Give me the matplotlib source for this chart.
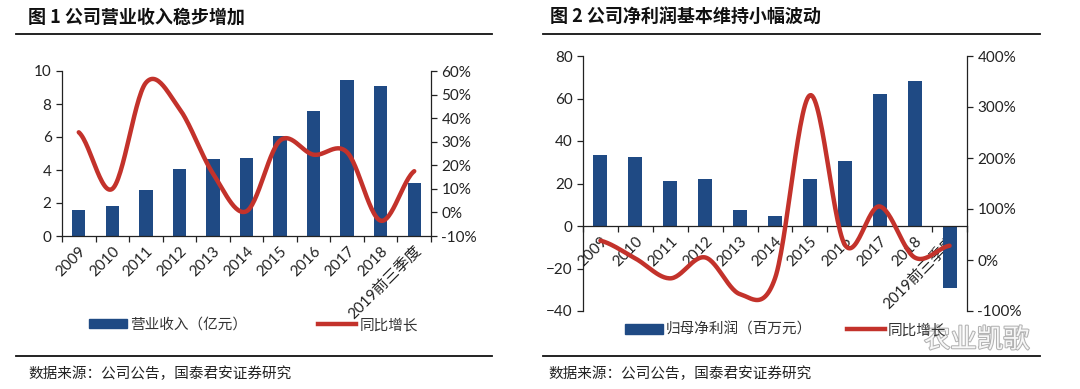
import numpy as np
import matplotlib
matplotlib.use("Agg")
import matplotlib.pyplot as plt
from matplotlib.lines import Line2D
from matplotlib.patches import Patch
import matplotlib.patheffects as pe

plt.rcParams['font.family'] = ['Noto Sans CJK SC', 'DejaVu Sans']
TICK_FONT = ['Lato', 'Noto Sans CJK SC']

# ---- data ----
years = ['2009', '2010', '2011', '2012', '2013', '2014', '2015', '2016', '2017', '2018', '2019前三季度']
revenue = [1.6, 1.8, 2.8, 4.05, 4.65, 4.7, 6.05, 7.6, 9.45, 9.1, 3.2]           # 亿元
revenue_growth = [34, 10, 55, 44, 16.5, 0.5, 30.5, 24.5, 25.5, -3.5, 17.5]     # %
profit = [33.4, 32.6, 21.3, 22.3, 7.4, 4.9, 22.0, 30.4, 62.1, 68.2, -29.0]     # 百万元
profit_growth = [38, 3, -36, 5, -67, -36, 323, 30, 105, 5, 28]                 # %

BLUE = '#1f4a84'
RED = '#c3322b'
W, H = 1080, 389


def smooth(x, y, n=30):
    # Catmull-Rom style smoothing like Excel's smoothed line
    x = np.asarray(x, float)
    y = np.asarray(y, float)
    px = np.concatenate([[2 * x[0] - x[1]], x, [2 * x[-1] - x[-2]]])
    py = np.concatenate([[y[0]], y, [y[-1]]])
    xs, ys = [], []
    t = np.linspace(0, 1, n)
    for i in range(1, len(px) - 2):
        p0 = np.array([px[i], py[i]])
        p3 = np.array([px[i + 1], py[i + 1]])
        c1 = p0 + (np.array([px[i + 1], py[i + 1]]) - np.array([px[i - 1], py[i - 1]])) / 6
        c2 = p3 - (np.array([px[i + 2], py[i + 2]]) - np.array([px[i], py[i]])) / 6
        b = ((1 - t) ** 3)[:, None] * p0 + (3 * (1 - t) ** 2 * t)[:, None] * c1 \
            + (3 * (1 - t) * t ** 2)[:, None] * c2 + (t ** 3)[:, None] * p3
        xs.append(b[:, 0])
        ys.append(b[:, 1])
    return np.concatenate(xs), np.concatenate(ys)


def rect(l, r, t, b):
    return [l / W, 1 - b / H, (r - l) / W, (b - t) / H]


def style_axes(ax, ax2):
    for a in (ax, ax2):
        a.spines['top'].set_visible(False)
        for s in a.spines.values():
            s.set_color('#222222')
            s.set_linewidth(0.9)
        a.tick_params(axis='y', labelsize=11, colors='#222222', length=4, width=0.9)
        a.tick_params(axis='x', which='both', labelsize=11, colors='#222222')
    ax2.spines['left'].set_visible(False)
    ax.spines['right'].set_visible(False)
    ax2.spines['bottom'].set_visible(False)
    ax.set_zorder(2)
    ax2.set_zorder(3)
    ax.patch.set_visible(False)
    for lab in ax.get_yticklabels() + ax2.get_yticklabels() + ax.get_xticklabels():
        lab.set_family(TICK_FONT)


fig = plt.figure(figsize=(W / 100, H / 100), dpi=100)
x = np.arange(len(years))

# ---- chart 1 ----
ax = fig.add_axes(rect(62, 431, 71, 236))
ax2 = ax.twinx()
ax.bar(x, revenue, width=0.4, color=BLUE, zorder=2)
ax.set_ylim(0, 10)
ax.set_yticks([0, 2, 4, 6, 8, 10])
ax.set_xlim(-0.5, len(years) - 0.5)
sx, sy = smooth(x, revenue_growth)
ax2.plot(sx, sy, color=RED, lw=3.2, solid_capstyle='round')
ax2.set_ylim(-10, 60)
ax2.set_yticks(np.arange(-10, 61, 10))
ax2.set_yticklabels([f'{v}%' for v in range(-10, 61, 10)])
ax.set_xticks(x)
ax.set_xticklabels(years, rotation=45, ha='right', rotation_mode='anchor')
ax.set_xticks(np.arange(-0.5, len(years)), minor=True)
style_axes(ax, ax2)
ax.tick_params(axis='x', which='major', length=0, pad=6)
ax.tick_params(axis='x', which='minor', length=4, width=0.9, color='#222222')

# ---- chart 2 ----
bx = fig.add_axes(rect(583, 967, 56, 311))
bx2 = bx.twinx()
bx.bar(x, profit, width=0.4, color=BLUE, zorder=2)
bx.set_ylim(-40, 80)
bx.set_yticks([-40, -20, 0, 20, 40, 60, 80])
bx.set_xlim(-0.5, len(years) - 0.5)
sx, sy = smooth(x, profit_growth)
bx2.plot(sx, sy, color=RED, lw=3.2, solid_capstyle='round')
bx2.set_ylim(-100, 400)
bx2.set_yticks(np.arange(-100, 401, 100))
bx2.set_yticklabels([f'{v}%' for v in range(-100, 401, 100)])
bx.spines['bottom'].set_position(('data', 0))
bx.set_xticks(x)
bx.set_xticklabels(years, rotation=45, ha='right', rotation_mode='anchor')
bx.set_xticks(np.arange(-0.5, len(years)), minor=True)
style_axes(bx, bx2)
bx.tick_params(axis='x', which='major', length=0, pad=6)
bx.tick_params(axis='x', which='minor', length=4, width=0.9, color='#222222')

# ---- legends ----
fig.legend([Patch(color=BLUE), Line2D([], [], color=RED, lw=3.2)],
           ['营业收入（亿元）', '同比增长'], ncol=2, frameon=False,
           loc='center left', bbox_to_anchor=(76 / W, 1 - 325 / H), fontsize=10.5,
           handlelength=2.6, handleheight=0.6, columnspacing=4.9, handletextpad=0.2,
           labelcolor='#333333')
fig.legend([Patch(color=BLUE), Line2D([], [], color=RED, lw=3.2)],
           ['归母净利润（百万元）', '同比增长'], ncol=2, frameon=False,
           loc='center left', bbox_to_anchor=(612 / W, 1 - 330 / H), fontsize=10.5,
           handlelength=2.6, handleheight=0.6, columnspacing=2.4, handletextpad=0.2,
           labelcolor='#333333')

# ---- titles, rules, sources ----
fig.text(28 / W, 1 - 17 / H, '图 1 公司营业收入稳步增加', fontsize=13, fontweight='bold',
         va='center', color='#111111')
fig.text(550 / W, 1 - 17 / H, '图 2 公司净利润基本维持小幅波动', fontsize=13, fontweight='bold',
         va='center', color='#111111')
for x0, x1 in [(16, 492), (543, 1040)]:
    for yy in (34, 356):
        fig.add_artist(Line2D([x0 / W, x1 / W], [1 - yy / H, 1 - yy / H],
                              color='#111111', lw=1.3))
fig.text(28 / W, 1 - 374 / H, '数据来源：公司公告，国泰君安证券研究', fontsize=10.5,
         va='center', color='#222222')
fig.text(548 / W, 1 - 374 / H, '数据来源：公司公告，国泰君安证券研究', fontsize=10.5,
         va='center', color='#222222')

# watermark
fig.text(924 / W, 1 - 340 / H, '农业凯歌', fontsize=19, va='center', color='white',
         alpha=0.9, path_effects=[pe.withStroke(linewidth=1.5, foreground='#aaaaaa')])

fig.savefig('out.png', dpi=100)
